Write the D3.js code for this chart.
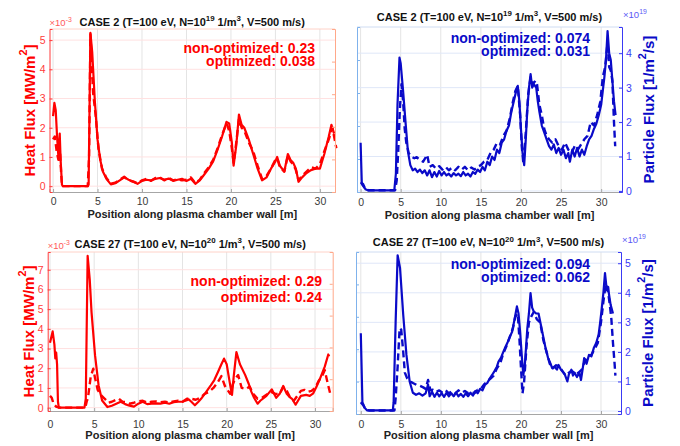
<!DOCTYPE html>
<html>
<head>
<meta charset="utf-8">
<script src="https://d3js.org/d3.v7.min.js"></script>
<style>
  body { margin: 0; background: #fff; }
  svg { font-family: "Liberation Sans", Arial, Helvetica, sans-serif; }
</style>
</head>
<body>
<div id="chart"></div>
<script>
// x ticks shared by all four panels
const xTicks = [0, 5, 10, 15, 20, 25, 30];

// case 2 heat flux (x1e-3 MW/m^2), [position m, value]
const case2HeatNonOpt = [[0,2.4],[0.15,2.85],[0.3,2.6],[0.45,1.7],[0.6,1.0],[0.75,1.8],[0.85,0.9],[1.0,0.05],[1.1,0],[2,0],[3,0],[3.9,0],[4.0,0.05],[4.2,5.25],[4.4,4.6],[4.7,2.9],[5.0,1.6],[5.3,0.9],[5.6,0.5],[6.0,0.25],[6.5,0.06],[7.0,0.1],[7.5,0.2],[8.0,0.3],[8.5,0.22],[9.0,0.15],[9.5,0.08],[10,0.18],[10.5,0.22],[11,0.2],[11.5,0.25],[12,0.28],[12.5,0.22],[13,0.26],[13.5,0.18],[14,0.22],[14.5,0.25],[15,0.18],[15.5,0.25],[16,0.08],[16.5,0.2],[17,0.4],[17.5,0.6],[18,0.85],[18.5,1.25],[19,1.7],[19.5,2.2],[19.8,2.15],[20.1,1.5],[20.3,0.7],[20.6,1.4],[20.9,2.45],[21.2,2.1],[21.5,2.0],[22,1.6],[22.5,1.1],[23,0.6],[23.5,0.2],[24,0.3],[24.5,0.6],[25,0.85],[25.2,1.0],[25.5,0.7],[26,0.5],[26.4,1.1],[26.7,0.9],[27,0.8],[27.3,0.6],[27.6,0.15],[28,0.3],[28.5,0.45],[29,0.55],[29.5,0.6],[30,0.6],[30.5,1.1],[31,1.7],[31.3,2.1],[31.6,1.8]];
const case2HeatOpt = [[0,1.6],[0.2,1.7],[0.4,1.2],[0.6,0.9],[0.8,1.1],[0.9,0.5],[1.0,0],[3.9,0],[4.05,1.0],[4.2,5.2],[4.5,3.2],[4.8,2.4],[5.1,1.3],[5.5,0.6],[6,0.28],[6.5,0.08],[7,0.12],[7.5,0.22],[8,0.32],[8.5,0.2],[9,0.16],[9.5,0.1],[10,0.2],[10.5,0.25],[11,0.18],[11.5,0.28],[12,0.3],[12.5,0.2],[13,0.28],[13.5,0.2],[14,0.24],[14.5,0.2],[15,0.22],[15.5,0.3],[16,0.1],[16.5,0.22],[17,0.45],[17.5,0.65],[18,0.9],[18.5,1.3],[19,1.75],[19.5,2.15],[19.8,1.9],[20.1,1.3],[20.3,0.8],[20.6,1.5],[20.9,2.3],[21.2,2.0],[21.5,1.9],[22,1.5],[22.5,1.2],[23,0.7],[23.5,0.25],[24,0.35],[24.5,0.6],[25,0.9],[25.2,0.95],[25.5,0.65],[26,0.5],[26.4,1.05],[26.7,0.85],[27,0.75],[27.3,0.55],[27.6,0.2],[28,0.35],[28.5,0.5],[29,0.65],[29.5,0.6],[30,0.75],[30.5,1.2],[31,1.6],[31.4,2.0],[31.6,1.7],[31.85,1.3]];

// case 2 particle flux (x1e19 1/m^2/s)
const case2PartNonOpt = [[0,1.4],[0.15,0.2],[0.3,0.15],[0.6,0.05],[0.9,0.02],[1.5,0.02],[2.5,0.02],[3.5,0.02],[4.2,0.02],[4.4,0.5],[4.6,2.5],[4.85,3.87],[5.0,3.7],[5.3,2.9],[5.6,2.0],[5.9,1.15],[6.2,0.75],[6.5,0.6],[6.8,0.65],[7.1,0.55],[7.4,0.62],[7.7,0.52],[8.0,0.6],[8.3,0.45],[8.6,0.6],[8.9,0.4],[9.2,0.55],[9.5,0.42],[9.8,0.58],[10.1,0.45],[10.4,0.55],[10.7,0.45],[11,0.5],[11.3,0.42],[11.6,0.52],[11.9,0.45],[12.2,0.5],[12.5,0.43],[12.8,0.55],[13.1,0.45],[13.4,0.5],[13.7,0.42],[14.0,0.55],[14.3,0.5],[14.6,0.62],[14.9,0.55],[15.2,0.7],[15.5,0.6],[15.8,0.85],[16.1,0.75],[16.4,1.0],[16.7,0.9],[17.0,1.2],[17.3,1.1],[17.6,1.4],[17.9,1.5],[18.2,1.75],[18.5,1.9],[18.8,2.3],[19.1,2.6],[19.4,2.9],[19.6,3.05],[19.8,2.6],[20.0,1.8],[20.2,1.1],[20.4,0.75],[20.6,1.5],[20.8,2.4],[21.0,3.0],[21.2,3.39],[21.4,3.0],[21.6,3.1],[21.9,3.0],[22.1,2.6],[22.3,2.3],[22.6,1.9],[22.9,1.7],[23.2,1.5],[23.5,1.3],[23.8,1.2],[24.1,1.35],[24.4,1.1],[24.7,1.25],[25.0,1.05],[25.3,1.2],[25.6,0.95],[25.9,1.1],[26.1,0.85],[26.4,1.2],[26.7,1.0],[27.0,1.25],[27.3,1.0],[27.6,1.2],[27.9,1.05],[28.2,1.3],[28.5,1.5],[28.8,1.6],[29.1,1.8],[29.4,1.95],[29.7,2.2],[30.0,2.5],[30.2,2.9],[30.4,3.3],[30.6,3.8],[30.8,4.64],[31.0,4.0],[31.2,3.8],[31.4,3.2],[31.6,2.6],[31.8,2.2]];
const case2PartOpt = [[0,0.25],[0.3,0.2],[0.6,0.05],[1,0.02],[2,0.02],[3,0.02],[4.3,0.02],[4.5,0.3],[4.7,1.2],[4.9,2.4],[5.1,3.1],[5.3,2.6],[5.5,1.8],[5.7,1.4],[6.0,1.1],[6.3,1.0],[6.7,0.95],[7.0,0.98],[7.4,0.9],[7.8,0.85],[8.3,1.05],[8.6,0.7],[9.0,0.75],[9.4,0.65],[9.8,0.72],[10.2,0.62],[10.6,0.7],[11.0,0.6],[11.4,0.68],[11.8,0.6],[12.2,0.7],[12.6,0.62],[13.0,0.7],[13.4,0.6],[13.8,0.68],[14.2,0.62],[14.6,0.7],[15.0,0.75],[15.4,0.85],[15.8,0.9],[16.2,1.1],[16.6,1.2],[17.0,1.4],[17.4,1.35],[17.8,1.6],[18.2,1.75],[18.6,2.1],[19.0,2.6],[19.3,2.9],[19.6,3.05],[19.9,2.2],[20.1,1.3],[20.3,0.8],[20.6,1.7],[20.9,2.8],[21.2,3.3],[21.5,3.1],[21.8,3.2],[22.0,3.1],[22.3,2.5],[22.6,2.2],[22.9,1.8],[23.2,1.6],[23.5,1.5],[23.9,1.4],[24.3,1.5],[24.7,1.3],[25.1,1.2],[25.5,1.4],[25.9,1.2],[26.3,1.1],[26.7,1.3],[27.1,1.2],[27.5,1.35],[27.9,1.5],[28.3,1.6],[28.7,2.0],[29.1,1.9],[29.5,2.2],[29.9,2.6],[30.2,3.3],[30.5,3.6],[30.8,4.3],[31.0,3.6],[31.2,3.5],[31.4,3.2],[31.6,2.0],[31.75,1.3]];

// case 27 heat flux (x1e-3 MW/m^2)
const case27HeatNonOpt = [[0,3.3],[0.3,3.87],[0.5,3.2],[0.6,2.5],[0.7,2.8],[0.8,2.2],[0.9,0.3],[1.0,0],[2,0],[3,0],[3.9,0],[4.05,0.45],[4.26,7.7],[4.5,6.5],[4.7,4.85],[5.1,2.65],[5.5,1.13],[5.9,0.36],[6.5,0.03],[7.0,0.1],[7.5,0.2],[8.0,0.3],[8.5,0.18],[9.0,0.1],[9.5,0.05],[10.0,0.2],[10.5,0.3],[11.0,0.18],[11.5,0.2],[12.0,0.22],[12.5,0.2],[13.0,0.25],[13.5,0.2],[14.0,0.28],[14.5,0.3],[15.0,0.3],[15.4,0.36],[15.7,0.42],[16.0,0.3],[16.4,0.12],[16.8,0.3],[17.1,0.45],[17.6,0.75],[18.2,1.13],[18.6,1.4],[19.0,1.8],[19.4,2.2],[19.7,2.49],[20.0,2.2],[20.4,1.13],[20.6,0.65],[20.8,1.6],[21.1,2.82],[21.5,2.2],[22.1,1.65],[22.5,1.2],[22.8,0.8],[23.1,0.5],[23.5,0.2],[23.8,0.35],[24.5,0.6],[25.1,0.93],[25.6,0.5],[26.0,0.7],[26.4,1.1],[26.8,0.7],[27.1,0.55],[27.4,0.45],[27.8,0.15],[28.4,0.6],[29.0,0.65],[29.4,0.6],[29.8,0.73],[30.2,1.1],[30.5,1.4],[31.1,2.08],[31.5,2.7],[31.6,2.6]];
const case27HeatOpt = [[0,0.6],[0.2,0.5],[0.4,0.2],[0.7,0.05],[1.0,0],[2,0],[3,0],[4.0,0],[4.15,0.3],[4.3,0.5],[4.6,1.55],[4.9,1.98],[5.1,1.5],[5.4,0.9],[5.8,0.62],[6.2,0.45],[6.6,0.25],[7.0,0.3],[7.4,0.38],[7.8,0.45],[8.2,0.3],[8.6,0.28],[9.0,0.2],[9.5,0.25],[10.0,0.32],[10.5,0.35],[11.0,0.25],[11.5,0.3],[12.0,0.32],[12.5,0.28],[13.0,0.3],[13.5,0.26],[14.0,0.32],[14.5,0.35],[15.0,0.3],[15.5,0.45],[16.0,0.45],[16.5,0.4],[17.0,0.5],[17.5,0.7],[18.0,0.8],[18.5,1.0],[19.0,1.3],[19.4,1.6],[19.8,1.1],[20.1,0.9],[20.4,0.7],[20.7,1.2],[21.0,1.5],[21.3,1.65],[21.7,1.0],[22.2,0.95],[22.6,1.07],[23.0,0.7],[23.5,0.45],[24.0,0.5],[24.5,0.65],[25.0,0.8],[25.5,0.7],[26.0,0.7],[26.4,1.05],[26.8,0.85],[27.2,0.5],[27.6,0.35],[28.0,0.6],[28.4,0.85],[28.8,0.9],[29.2,0.8],[29.6,0.85],[30.0,1.0],[30.4,1.35],[30.8,1.6],[31.1,1.9],[31.4,1.3],[31.7,0.75]];

// case 27 particle flux (x1e19 1/m^2/s)
const case27PartNonOpt = [[0,2.63],[0.2,0.3],[0.5,0.1],[0.8,0.02],[2,0.02],[3,0.02],[4.0,0.02],[4.1,0.3],[4.35,3.0],[4.6,5.27],[4.9,4.84],[5.3,3.25],[5.7,1.9],[6.1,1.0],[6.5,0.62],[6.9,0.55],[7.3,0.6],[7.7,0.52],[8.1,0.6],[8.4,0.9],[8.6,0.5],[8.9,0.65],[9.2,0.48],[9.5,0.62],[9.8,0.5],[10.1,0.6],[10.4,0.48],[10.7,0.62],[11.0,0.5],[11.3,0.6],[11.6,0.5],[11.9,0.62],[12.2,0.5],[12.5,0.58],[12.8,0.48],[13.1,0.6],[13.4,0.5],[13.7,0.62],[14.0,0.52],[14.3,0.68],[14.6,0.6],[14.9,0.75],[15.2,0.7],[15.5,0.88],[15.8,0.95],[16.1,1.1],[16.4,1.22],[16.7,1.35],[17.0,1.5],[17.2,1.67],[17.5,1.8],[17.8,2.0],[18.0,2.13],[18.3,2.3],[18.6,2.5],[18.9,2.68],[19.2,3.1],[19.5,3.54],[19.7,3.3],[19.9,2.68],[20.1,1.9],[20.3,1.22],[20.5,1.6],[20.8,2.8],[21.0,3.3],[21.2,3.99],[21.4,3.5],[21.6,3.37],[21.9,3.3],[22.2,3.3],[22.5,2.9],[22.8,2.5],[23.1,2.1],[23.4,1.79],[23.7,1.6],[23.9,1.45],[24.2,1.5],[24.5,1.4],[24.7,1.56],[25.0,1.4],[25.3,1.3],[25.5,1.22],[25.8,1.0],[26.0,1.25],[26.3,1.4],[26.5,1.2],[26.7,1.3],[27.0,1.15],[27.3,1.3],[27.5,1.05],[27.7,1.4],[27.9,1.79],[28.2,1.6],[28.5,1.9],[28.8,1.85],[29.1,2.13],[29.4,2.3],[29.7,2.58],[29.9,3.0],[30.1,3.48],[30.3,4.0],[30.5,4.67],[30.7,4.15],[30.9,4.2],[31.0,3.95],[31.2,3.6],[31.5,3.3]];
const case27PartOpt = [[0,0.3],[0.3,0.2],[0.6,0.05],[1,0.02],[2,0.02],[3,0.02],[4.2,0.02],[4.35,0.43],[4.6,1.5],[4.85,2.8],[5.05,2.75],[5.3,2.0],[5.5,1.3],[5.8,1.1],[6.1,1.0],[6.5,0.95],[7.0,0.88],[7.4,0.85],[7.8,0.8],[8.1,0.75],[8.4,1.05],[8.7,0.7],[9.0,0.72],[9.4,0.65],[9.8,0.7],[10.2,0.62],[10.6,0.7],[11.0,0.6],[11.4,0.68],[11.8,0.6],[12.2,0.7],[12.6,0.62],[13.0,0.68],[13.4,0.6],[13.8,0.65],[14.2,0.6],[14.6,0.72],[15.0,0.75],[15.4,0.9],[15.8,1.0],[16.2,1.1],[16.6,1.2],[17.0,1.45],[17.4,1.6],[17.8,1.95],[18.2,2.2],[18.6,2.5],[19.0,2.8],[19.3,3.2],[19.6,3.3],[19.8,2.5],[20.0,1.5],[20.2,0.6],[20.4,1.0],[20.7,2.2],[21.0,3.0],[21.3,3.2],[21.6,3.35],[22.0,3.1],[22.4,3.0],[22.8,2.4],[23.2,2.0],[23.6,1.6],[24.0,1.45],[24.4,1.55],[24.8,1.5],[25.2,1.35],[25.6,1.2],[26.0,1.3],[26.4,1.35],[26.8,1.25],[27.2,1.3],[27.6,1.4],[28.0,1.7],[28.4,1.85],[28.8,1.9],[29.2,2.1],[29.6,2.3],[30.0,3.0],[30.3,3.7],[30.6,4.3],[30.9,4.0],[31.1,3.6],[31.3,3.1],[31.5,2.3],[31.7,1.6],[31.8,1.2]];

// text
const case2Title = ["CASE 2 (T=100 eV, N=10", {sup: "19"}, " 1/m", {sup: "3"}, ", V=500 m/s)"];
const case27Title = ["CASE 27 (T=100 eV, N=10", {sup: "20"}, " 1/m", {sup: "3"}, ", V=500 m/s)"];
const heatLabel = ["Heat Flux [MW/m", {sup: "2"}, "]"];
const partLabel = ["Particle Flux [1/m", {sup: "2"}, "/s]"];
const xLabel = "Position along plasma chamber wall [m]";

const W = 680, H = 446;
const RED = "#ff0000", BLUE = "#0a0ac8";

const panels = [
  { box: {l: 49.5, r: 335, t: 29, b: 192}, xDom: [-0.4, 31.7], yDom: [-0.2, 5.38], yTicks: d3.range(0, 6),
    side: "left", line: RED, axis: "#ff3b3b", other: "#ffa88a", grid: "#ffe1e1", exp: ["\u00d710", {sup: "-3"}],
    title: case2Title, titleY: 25.5, ylab: heatLabel, ylabX: 28.5, xlabY: 218, tickY: 205,
    solid: case2HeatNonOpt, dashed: case2HeatOpt, notes: ["non-optimized: 0.23", "optimized: 0.038"], noteX: 315, noteY: 53, noteGap: 13 },
  { box: {l: 357, r: 622, t: 27, b: 192}, xDom: [-0.45, 32.6], yDom: [-0.03, 4.76], yTicks: d3.range(0, 5),
    side: "right", line: BLUE, axis: "#3a3af5", other: "#7fb2ec", grid: "#dfe7f8", exp: ["\u00d710", {sup: "19"}],
    title: case2Title, titleY: 20.5, ylab: partLabel, ylabX: 648, xlabY: 219, tickY: 206,
    solid: case2PartNonOpt, dashed: case2PartOpt, notes: ["non-optimized: 0.074", "optimized: 0.031"], noteX: 590, noteY: 42.5, noteGap: 13.5 },
  { box: {l: 47.7, r: 332.7, t: 252, b: 411}, xDom: [-0.26, 32.0], yDom: [-0.17, 7.9], yTicks: d3.range(0, 8),
    side: "left", line: RED, axis: "#ff3b3b", other: "#ffa88a", grid: "#ffe1e1", exp: ["\u00d710", {sup: "-3"}],
    title: case27Title, titleY: 247.5, ylab: heatLabel, ylabX: 27.5, xlabY: 438.5, tickY: 428,
    solid: case27HeatNonOpt, dashed: case27HeatOpt, notes: ["non-optimized: 0.29", "optimized: 0.24"], noteX: 322, noteY: 286, noteGap: 16 },
  { box: {l: 356, r: 621, t: 252, b: 414}, xDom: [-0.6, 32.5], yDom: [-0.1, 5.38], yTicks: d3.range(0, 6),
    side: "right", line: BLUE, axis: "#3a3af5", other: "#7fb2ec", grid: "#dfe7f8", exp: ["\u00d710", {sup: "19"}],
    title: case27Title, titleY: 246, ylab: partLabel, ylabX: 647, xlabY: 438.5, tickY: 428,
    solid: case27PartNonOpt, dashed: case27PartOpt, notes: ["non-optimized: 0.094", "optimized: 0.062"], noteX: 590, noteY: 268.5, noteGap: 13.5 }
];

const svg = d3.select("#chart").append("svg").attr("width", W).attr("height", H);

// write text with superscript pieces
function rich(sel, parts, fs) {
  let shift = 0;
  parts.forEach(p => {
    const sup = typeof p !== "string";
    const target = sup ? -0.4 * fs : 0;
    sel.append("tspan")
      .attr("dy", target - shift)
      .attr("font-size", sup ? fs * 0.72 : fs)
      .text(sup ? p.sup : p);
    shift = target;
  });
}

panels.forEach(p => {
  const g = svg.append("g");
  const b = p.box;
  const x = d3.scaleLinear().domain(p.xDom).range([b.l, b.r]);
  const y = d3.scaleLinear().domain(p.yDom).range([b.b, b.t]);
  // hidden opposite yyaxis: only ticks
  const y2 = d3.scaleLinear().domain([0, 5]).range([b.b, b.t]);

  // grid
  g.append("g").selectAll("line").data(xTicks).join("line")
    .attr("x1", d => x(d)).attr("x2", d => x(d)).attr("y1", b.t).attr("y2", b.b)
    .attr("stroke", "#e4e4e4").attr("stroke-width", 1);
  g.append("g").selectAll("line").data(p.yTicks).join("line")
    .attr("x1", b.l).attr("x2", b.r).attr("y1", d => y(d)).attr("y2", d => y(d))
    .attr("stroke", p.grid).attr("stroke-width", 1);

  // data lines
  const line = d3.line().x(d => x(d[0])).y(d => y(d[1]));
  g.append("path").datum(p.dashed).attr("d", line).attr("fill", "none")
    .attr("stroke", p.line).attr("stroke-width", 2.4).attr("stroke-dasharray", "7,4")
    .attr("stroke-linejoin", "round");
  g.append("path").datum(p.solid).attr("d", line).attr("fill", "none")
    .attr("stroke", p.line).attr("stroke-width", 2.2).attr("stroke-linejoin", "round");

  // frame
  g.append("line").attr("x1", b.l).attr("x2", b.r).attr("y1", b.t).attr("y2", b.t)
    .attr("stroke", p.side === "left" ? "#ffd2c8" : "#cfdcf2");
  const mainX = p.side === "left" ? b.l : b.r;
  const otherX = p.side === "left" ? b.r : b.l;

  // x axis
  const xAxis = g.append("g").attr("transform", `translate(0,${b.b})`)
    .call(d3.axisBottom(x).tickValues(xTicks).tickSize(-3).tickPadding(0).tickFormat(d3.format("d")));
  xAxis.select(".domain").attr("stroke", "#a6a6a6");
  xAxis.selectAll(".tick line").attr("stroke", "#a6a6a6");
  xAxis.selectAll("text").attr("y", p.tickY - b.b).attr("dy", null)
    .attr("font-size", 10.5).attr("fill", "#3a3a3a").attr("font-family", null);

  // secondary (unlabelled) y axis
  const ax2 = g.append("g").attr("transform", `translate(${otherX},0)`)
    .call((p.side === "left" ? d3.axisRight(y2) : d3.axisLeft(y2)).tickValues([1, 2, 3, 4]).tickSize(-3).tickFormat(""));
  ax2.selectAll("path, line").attr("stroke", p.other);

  // main y axis
  const yAx = (p.side === "left" ? d3.axisLeft(y) : d3.axisRight(y))
    .tickValues(p.yTicks).tickSize(-3).tickPadding(4).tickFormat(d3.format("d"));
  const ax = g.append("g").attr("transform", `translate(${mainX},0)`).call(yAx);
  ax.selectAll("path, line").attr("stroke", p.axis);
  ax.selectAll("text").attr("font-size", 10.5).attr("fill", p.axis).attr("font-family", null);

  // exponent
  const ex = g.append("text")
    .attr("x", p.side === "left" ? b.l : b.r + 1)
    .attr("y", p.side === "left" ? b.t - 3 : b.t - 9)
    .attr("fill", p.axis).attr("opacity", 0.85);
  rich(ex, p.exp, 9.5);

  // title
  const t = g.append("text").attr("x", (b.l + b.r) / 2).attr("y", p.titleY)
    .attr("text-anchor", "middle").attr("font-weight", "bold").attr("fill", "#111");
  rich(t, p.title, 11);

  // x label
  g.append("text").attr("x", (b.l + b.r) / 2).attr("y", p.xlabY)
    .attr("text-anchor", "middle").attr("font-weight", "bold").attr("font-size", 11)
    .attr("fill", "#222").text(xLabel);

  // y label
  const yl = g.append("text")
    .attr("transform", `translate(${p.ylabX},${(b.t + b.b) / 2}) rotate(-90)`)
    .attr("text-anchor", "middle").attr("dominant-baseline", "central")
    .attr("font-weight", "bold").attr("fill", p.line);
  rich(yl, p.ylab, 15);

  // annotations
  p.notes.forEach((n, i) => {
    g.append("text").attr("x", p.noteX).attr("y", p.noteY + i * p.noteGap)
      .attr("text-anchor", "end").attr("font-weight", "bold").attr("font-size", 14)
      .attr("fill", p.line).text(n);
  });
});
</script>
</body>
</html>
